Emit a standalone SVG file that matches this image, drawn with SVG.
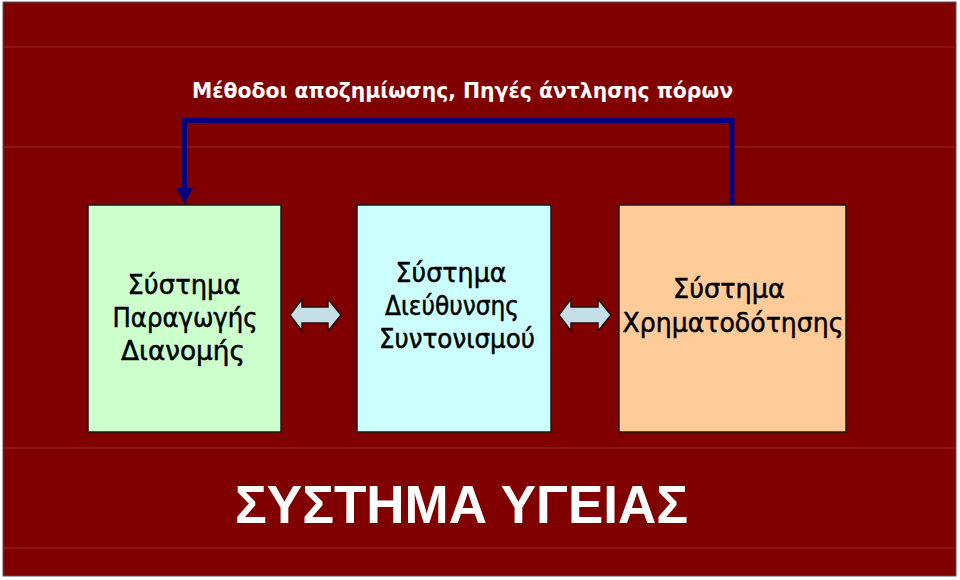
<svg xmlns="http://www.w3.org/2000/svg" width="960" height="580" viewBox="0 0 960 580">
<defs>
<style>
.box{stroke:#1a1a1a;stroke-width:1.5}
.bt{font-family:"DejaVu Sans","Open Sans",sans-serif;font-size:27px;fill:#000;stroke:#000;stroke-width:0.5;text-anchor:middle}
.dbl{fill:#c4e0e6;stroke:#2a0a0a;stroke-width:1.5;stroke-linejoin:miter}
.grid{stroke:#9a2a20;stroke-width:1}
</style>
</defs>
<rect x="0" y="0" width="960" height="580" fill="#ffffff"/>
<rect x="3" y="2" width="953" height="574" fill="#800000" stroke="#555" stroke-width="1"/>
<g id="grid">
<line class="grid" x1="4" y1="47" x2="955" y2="47"/>
<line class="grid" x1="4" y1="147" x2="955" y2="147"/>
<line class="grid" x1="4" y1="448" x2="955" y2="448"/>
<line class="grid" x1="4" y1="548" x2="955" y2="548"/>
</g>
<g id="title">
<text x="192" y="98" textLength="541" lengthAdjust="spacingAndGlyphs" font-family="'DejaVu Sans','Liberation Sans',sans-serif" font-size="22" font-weight="bold" fill="#ffffff">Μέθοδοι αποζημίωσης, Πηγές άντλησης πόρων</text>
</g>
<g id="connectors">
<polyline points="732,205 732,120.5 184.5,120.5 184.5,190" fill="none" stroke="#000080" stroke-width="5"/>
<polygon points="176,188 193,188 184.5,204" fill="#000080"/>
<path class="dbl" d="M290,315 L302,299 L302,307 L328,307 L328,299 L341,315 L328,331 L328,323 L302,323 L302,331 Z"/>
<path class="dbl" d="M559,315 L571,299 L571,307 L598,307 L598,299 L611,315 L598,331 L598,323 L571,323 L571,331 Z"/>
</g>
<g id="node-production">
<rect class="box" x="88" y="205" width="193" height="227" fill="#ccffcc"/>
<text class="bt" x="184" y="294" textLength="113" lengthAdjust="spacingAndGlyphs">Σύστημα</text>
<text class="bt" x="185" y="327" textLength="145" lengthAdjust="spacingAndGlyphs">Παραγωγής</text>
<text class="bt" x="183" y="360" textLength="124" lengthAdjust="spacingAndGlyphs">Διανομής</text>
</g>
<g id="node-management">
<rect class="box" x="357" y="205" width="194" height="227" fill="#ccffff"/>
<text class="bt" x="451" y="282" textLength="111" lengthAdjust="spacingAndGlyphs">Σύστημα</text>
<text class="bt" x="452" y="315" textLength="134" lengthAdjust="spacingAndGlyphs">Διεύθυνσης</text>
<text class="bt" x="457" y="348" textLength="156" lengthAdjust="spacingAndGlyphs">Συντονισμού</text>
</g>
<g id="node-financing">
<rect class="box" x="619" y="205" width="227" height="227" fill="#ffcc99"/>
<text class="bt" x="729" y="298" textLength="112" lengthAdjust="spacingAndGlyphs">Σύστημα</text>
<text class="bt" x="733" y="332" textLength="221" lengthAdjust="spacingAndGlyphs">Χρηματοδότησης</text>
</g>
<g id="footer">
<text x="235" y="523" textLength="453" lengthAdjust="spacingAndGlyphs" font-family="'Liberation Sans',Arial,sans-serif" font-size="53" font-weight="bold" fill="#ffffff">ΣΥΣΤΗΜΑ ΥΓΕΙΑΣ</text>
</g>
</svg>
